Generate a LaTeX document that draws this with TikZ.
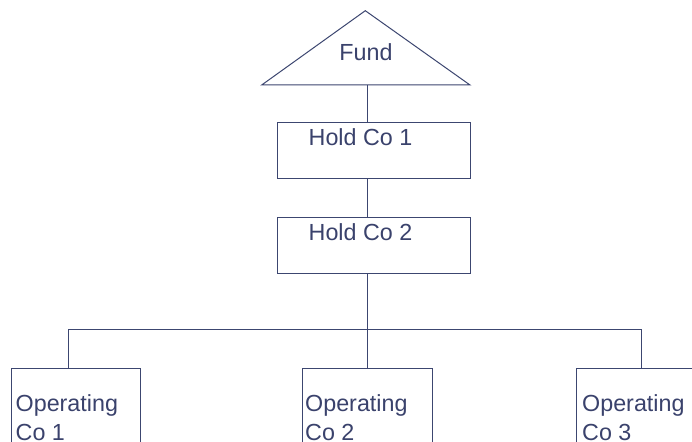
\documentclass[tikz,border=0pt]{standalone}
\usepackage{fontspec}
\setmainfont{Liberation Sans}
\definecolor{ln}{RGB}{60,70,112}
\definecolor{tx}{RGB}{58,66,108}
\begin{document}
\begin{tikzpicture}[x=1pt,y=-1pt,
  box/.style={draw=ln,line width=1pt,rectangle,inner sep=0pt,anchor=north west},
  lbl/.style={text=tx,inner sep=0pt,font=\fontsize{23.3}{28.3}\selectfont,align=left},
  conn/.style={draw=ln,line width=1pt}]
\useasboundingbox (0,0) rectangle (692,441);
\clip (0,0) rectangle (692,441);
\fill[white] (0,0) rectangle (692,441);
% Fund triangle
\coordinate (fl) at (261.7,85);
\coordinate (fr) at (470,85);
\coordinate (fa) at (365.3,10.7);
\coordinate (fb) at (367.4,85);
\draw[ln,line width=1pt,line join=miter] (fl) -- (fa) -- (fr) -- cycle;
\node[lbl,anchor=base] (fund) at (366,61) {Fund};
% Hold Cos
\node[box,minimum width=192.7pt,minimum height=56.6pt] (hc1) at (277.3,121.7) {};
\node[box,minimum width=192.7pt,minimum height=56pt] (hc2) at (277.3,217.3) {};
\node[lbl,anchor=base west] (t1) at (308.5,145) {Hold Co 1};
\node[lbl,anchor=base west] (t2) at (308.5,240) {Hold Co 2};
% Operating Cos
\node[box,minimum width=129.3pt,minimum height=110pt] (op1) at (11,368.3) {};
\node[box,minimum width=130pt,minimum height=110pt] (op2) at (302.3,368.3) {};
\node[box,minimum width=130pt,minimum height=110pt] (op3) at (575.7,368.3) {};
\node[lbl,anchor=base west] (o1) at (15.5,440) {Operating\\Co 1};
\node[lbl,anchor=base west] (o2) at (305,440) {Operating\\Co 2};
\node[lbl,anchor=base west] (o3) at (582,440) {Operating\\Co 3};
% connectors
\coordinate (jn) at (367.4,329.3);
\coordinate (jl) at (68.3,329.3);
\coordinate (jr) at (641,329.3);
\draw[conn] (fb) -- (fb |- hc1.north);
\draw[conn] (fb |- hc1.south) -- (fb |- hc2.north);
\draw[conn] (fb |- hc2.south) -- (jn);
\draw[conn] (jl) -- (jr);
\draw[conn] (jl) -- (jl |- op1.north);
\draw[conn] (jn) -- (jn |- op2.north);
\draw[conn] (jr) -- (jr |- op3.north);
\end{tikzpicture}
\end{document}
